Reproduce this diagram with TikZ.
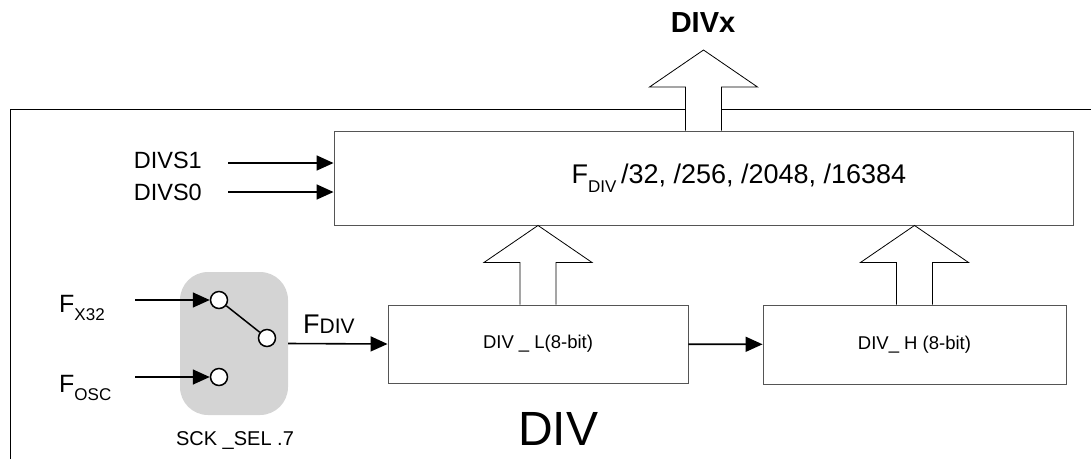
\documentclass[tikz,border=0pt]{standalone}
\usepackage{fontspec}
\setmainfont{Liberation Sans}
\usetikzlibrary{arrows.meta, positioning, calc}
\definecolor{selgray}{RGB}{212, 212, 212}
\definecolor{edgegray}{RGB}{85, 85, 85}

\newcommand{\fsz}[1]{\fontsize{#1}{#1}\selectfont}
\newcommand{\lowidx}[2]{\raisebox{-0.35em}{\fsz{#1}#2}}
\newcommand{\busarrow}[2]{%
  \draw[fill=white, line width=0.8pt] let \p1=(#1), \p2=(#2) in
    (\x1-18pt,\y1) -- (\x1-18pt,\y2-37pt) -- (\x1-54pt,\y2-37pt) -- (\x1,\y2)
    -- (\x1+54pt,\y2-37pt) -- (\x1+18pt,\y2-37pt) -- (\x1+18pt,\y1);}

\begin{document}
\begin{tikzpicture}[x=1pt, y=-1pt,
    block/.style={draw=edgegray, line width=0.9pt, fill=white, inner sep=0pt},
    sig/.style={line width=1.6pt, -{Triangle[length=17pt, width=15pt]}},
    contact/.style={circle, draw, fill=white, line width=1.5pt, minimum size=17pt, inner sep=0pt},
    lbl/.style={font=\fsz{23.5}, inner sep=0pt},
    boxtxt/.style={font=\fsz{18.5}}]
    \useasboundingbox (0,0) rectangle (1091,459);

    % Outer frame of the DIV unit
    \draw[line width=1pt] (10,459) -- (10,109) -- (1091,109);
    \node[font=\fsz{48}] (divname) at (558,429) {DIV};

    % Prescaler block and counters
    \node[block, minimum width=739pt, minimum height=94pt] (prescaler) at (703.5,178) {};
    \node[font=\fsz{27}, anchor=base] (ratio) at (739,183)
        {F\lowidx{17}{DIV}\,/32, /256, /2048, /16384};
    \node[block, boxtxt, minimum width=300pt, minimum height=78pt] (divl) at (538,344) {DIV \_ L(8-bit)};
    \node[block, boxtxt, minimum width=303pt, minimum height=79pt] (divh) at (914.5,344.5) {DIV\_ H (8-bit)};
    \draw[sig] (divl) -- (divh);

    % Bus arrows
    \busarrow{divl.north}{divl.north |- prescaler.south}
    \busarrow{divh.north}{divh.north |- prescaler.south}
    \coordinate (divxtip) at (703,50);
    \busarrow{prescaler.north}{divxtip}
    \node[font=\fsz{29}\bfseries] (divx) at (703,23) {DIVx};

    % Select inputs
    \node[lbl, anchor=base east] (divs1) at (202,168) {DIVS1};
    \node[lbl, anchor=base east] (divs0) at (202,200) {DIVS0};
    \coordinate (s1) at (228,163);
    \coordinate (s0) at (228,192);
    \draw[sig] (s1) -- (s1 -| prescaler.west);
    \draw[sig] (s0) -- (s0 -| prescaler.west);

    % Clock source switch
    \node[fill=selgray, rounded corners=28pt, minimum width=108pt, minimum height=143pt] (sel) at (234,343.5) {};
    \node[contact] (cx) at (219,300) {};
    \node[contact] (cout) at (267,338) {};
    \node[contact] (cosc) at (219,377) {};
    \draw[line width=1.5pt] (cx) -- (cout);
    \node[font=\fsz{20}] (selname) at (235,440) {SCK \_SEL .7};

    \node[font=\fsz{25}, anchor=base west, inner sep=0pt] (fx32) at (59,312) {F\lowidx{17}{X32}};
    \node[font=\fsz{25}, anchor=base west, inner sep=0pt] (fosc) at (59,392) {F\lowidx{17}{OSC}};
    \coordinate (x32in) at (135,300);
    \coordinate (oscin) at (135,377);
    \draw[sig] (x32in) -- (cx);
    \draw[sig] (oscin) -- (cosc);

    \draw[sig] (sel.east) -- (divl.west);
    \node[anchor=base west, inner sep=0pt] (fdiv) at (303,333) {\fsz{27}F\fsz{21}DIV};
\end{tikzpicture}
\end{document}
